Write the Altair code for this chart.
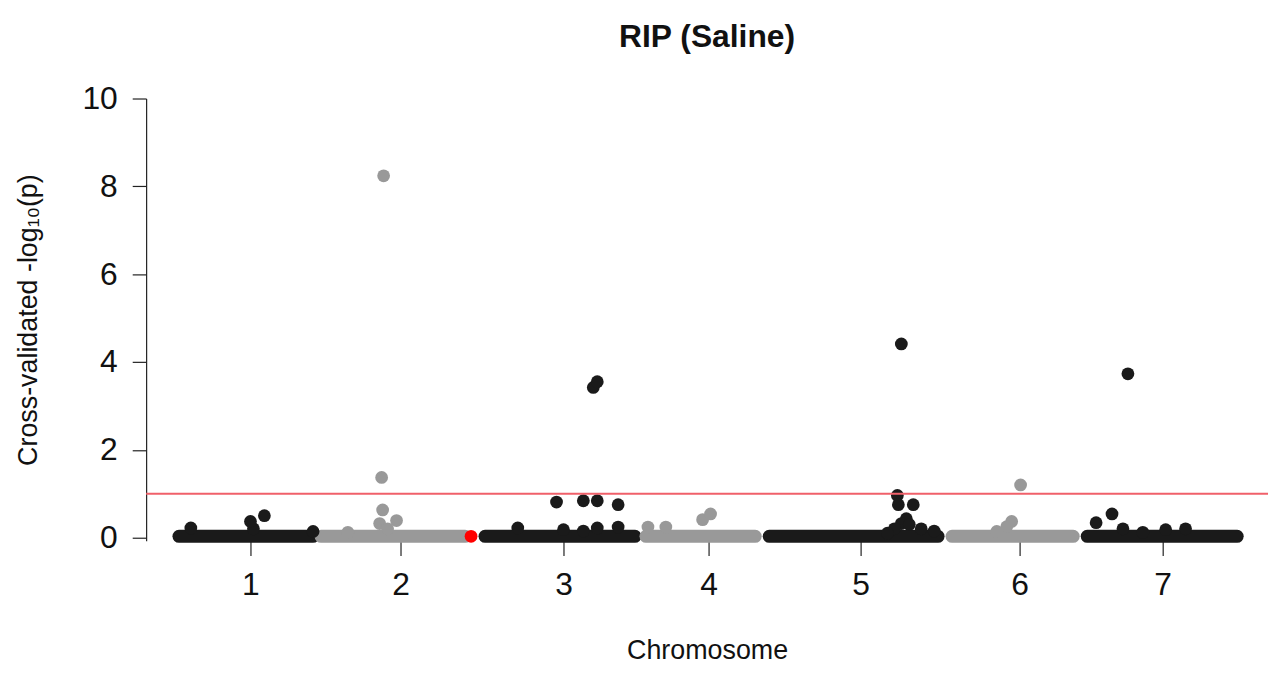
import altair as alt
import pandas as pd

# ---- data ----
chrom_names = ["1", "2", "3", "4", "5", "6", "7"]
# band of dense near-zero markers per chromosome (cumulative position units)
band_start = [33, 176, 341, 503, 627, 811, 947]
band_end = [168, 321, 492, 613, 797, 933, 1098]
band_value = [0.03, 0.03, 0.03, 0.03, 0.03, 0.03, 0.03]
# tick positions (chromosome centres)
tick_pos = [105, 256, 420, 566, 719, 879, 1023]

# individual markers that rise above the band: chromosome, position, -log10(p)
pt_chrom = ["1", "1", "1", "1", "1",
            "2", "2", "2", "2", "2", "2", "2",
            "3", "3", "3", "3", "3", "3", "3", "3", "3", "3", "3",
            "4", "4", "4", "4",
            "5", "5", "5", "5", "5", "5", "5", "5", "5", "5", "5",
            "6", "6", "6", "6",
            "7", "7", "7", "7", "7", "7", "7"]
pt_pos = [45, 108, 105, 119, 168,
          239, 237, 238, 252, 235, 203, 243,
          413, 440, 454, 475, 374, 420, 440, 454, 475, 450, 454,
          505, 523, 560, 568,
          756, 757, 772, 765, 760, 753, 780, 793, 746, 760, 768,
          880, 871, 866, 856,
          956, 972, 983, 1026, 1046, 1003, 988]
pt_value = [0.22, 0.20, 0.37, 0.50, 0.14,
            8.24, 1.37, 0.63, 0.39, 0.32, 0.12, 0.20,
            0.81, 0.84, 0.84, 0.75, 0.22, 0.18, 0.15, 0.22, 0.24, 3.42, 3.55,
            0.24, 0.24, 0.41, 0.54,
            0.96, 0.75, 0.75, 0.43, 0.32, 0.20, 0.20, 0.15, 0.10, 4.41, 0.30,
            1.20, 0.37, 0.25, 0.14,
            0.34, 0.54, 0.20, 0.18, 0.20, 0.12, 3.73]
# highlighted marker
hl_pos = [327]
hl_value = [0.03]
threshold = [1.0]

x_domain = [0, 1129]
y_domain = [-0.07, 10]
y_ticks = [0, 2, 4, 6, 8, 10]

parity = {c: ("odd" if i % 2 == 0 else "even") for i, c in enumerate(chrom_names)}

band_df = pd.DataFrame({
    "chrom": chrom_names, "start": band_start, "end": band_end, "value": band_value,
})
band_df["group"] = band_df["chrom"].map(parity)

pts_df = pd.DataFrame({"chrom": pt_chrom, "pos": pt_pos, "value": pt_value})
pts_df["group"] = pts_df["chrom"].map(parity)

hl_df = pd.DataFrame({"pos": hl_pos, "value": hl_value})
thr_df = pd.DataFrame({"value": threshold})

FONT = "Liberation Sans"
color_scale = alt.Scale(domain=["odd", "even"], range=["#1a1a1a", "#999999"])

label_expr = " : ".join(
    f"datum.value == {p} ? '{c}'" for p, c in zip(tick_pos, chrom_names)
) + " : ''"

x_enc = alt.X(
    "start:Q",
    scale=alt.Scale(domain=x_domain, nice=False, zero=False),
    axis=alt.Axis(
        title="Chromosome", values=tick_pos, labelExpr=label_expr,
        domain=False, grid=False, ticks=True, tickSize=15, tickColor="#222222",
        tickWidth=1.2, labelFontSize=32, labelFont=FONT, labelColor="#111111",
        labelPadding=14, titleFontSize=27, titleFont=FONT, titleFontWeight="normal",
        titleColor="#111111", titlePadding=38, labelFlush=False,
    ),
)
y_scale = alt.Scale(domain=y_domain, nice=False, zero=False)
y_axis = alt.Axis(
    title="Cross-validated -log₁₀(p)", values=y_ticks, grid=False,
    domainColor="#222222", domainWidth=1.2, tickColor="#222222", tickWidth=1.2,
    tickSize=14, labelFontSize=32, labelFont=FONT, labelColor="#111111",
    labelPadding=15, titleFontSize=27, titleFont=FONT, titleFontWeight="normal",
    titleColor="#111111", titlePadding=40,
)

band = alt.Chart(band_df).mark_rule(strokeWidth=13, strokeCap="round").encode(
    x=x_enc,
    x2="end:Q",
    y=alt.Y("value:Q", scale=y_scale, axis=y_axis),
    color=alt.Color("group:N", scale=color_scale, legend=None),
)

points = alt.Chart(pts_df).mark_circle(size=165, opacity=1).encode(
    x=alt.X("pos:Q"),
    y=alt.Y("value:Q"),
    color=alt.Color("group:N", scale=color_scale, legend=None),
)

highlight = alt.Chart(hl_df).mark_circle(size=165, opacity=1, color="#ff0000").encode(
    x="pos:Q", y="value:Q",
)

thr = alt.Chart(thr_df).mark_rule(color="#f0606a", strokeWidth=2.2).encode(
    y="value:Q",
)

chart = alt.layer(band, points, highlight, thr).properties(
    width=1129,
    height=445,
    background="white",
    title=alt.TitleParams(
        "RIP (Saline)", fontSize=32, fontWeight="bold", font=FONT,
        color="#111111", anchor="middle", offset=29,
    ),
    autosize=alt.AutoSizeParams(type="none"),
    padding={"left": 139, "top": 89, "right": 4, "bottom": 125},
).configure_view(stroke=None, strokeWidth=0)

chart.save("out.html", embed_options={"renderer": "svg", "actions": False})
